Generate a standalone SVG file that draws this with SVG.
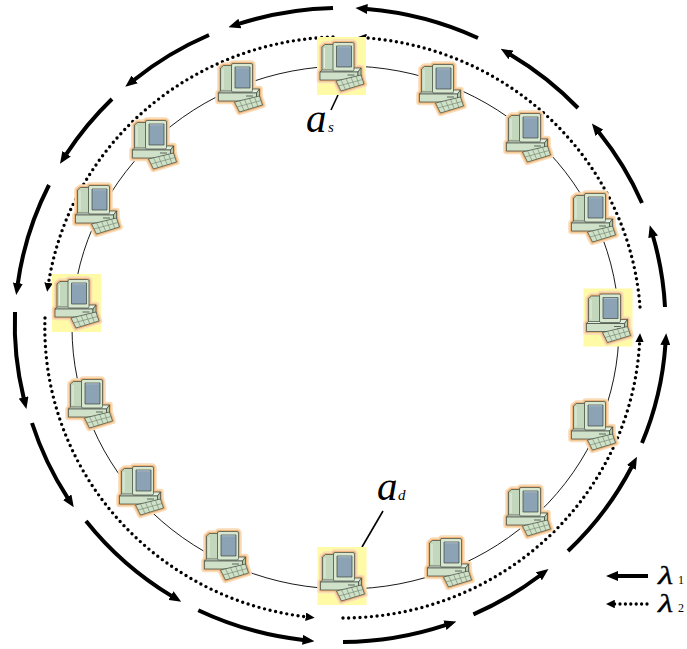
<svg xmlns="http://www.w3.org/2000/svg" width="687" height="649" viewBox="0 0 687 649">
  <style>
    .ring { fill: none; stroke: #000; stroke-width: 0.9; }
    .solid { fill: none; stroke: #000; stroke-width: 4; marker-end: url(#ah); }
    .dots { fill: none; stroke: #000; stroke-width: 3.4; stroke-linecap: round; stroke-dasharray: 0 5.7; marker-end: url(#ahs); }
    .lead { stroke: #000; stroke-width: 1.6; }
    .hl { fill: #fffaa5; }
    .lbl { font-family: "Liberation Serif", "Times New Roman", serif; font-style: italic; fill: #000; }
    .greek { font-family: "Liberation Serif", "Times New Roman", serif; font-style: italic; fill: #000; stroke: #000; stroke-width: 0.3; }
    .sub { font-family: "Liberation Serif", "Times New Roman", serif; font-style: normal; fill: #000; }
    .edge { stroke: #3c463c; stroke-width: 0.7; stroke-linejoin: round; }
    .keys { stroke: #6b7d6b; stroke-width: 0.6; fill: none; }
  </style>
  <defs>
    <marker id="ah" markerUnits="userSpaceOnUse" viewBox="0 0 12 10" markerWidth="12" markerHeight="10" refX="0.5" refY="5" orient="auto">
      <path d="M0,0 L12,5 L0,10 z" fill="#000"/>
    </marker>
    <marker id="ahs" markerUnits="userSpaceOnUse" viewBox="0 0 9 8.5" markerWidth="9" markerHeight="8.5" refX="0.3" refY="4.25" orient="auto">
      <path d="M0,0 L9,4.25 L0,8.5 z" fill="#000"/>
    </marker>

    <!-- outline of the computer, used for the soft orange halo -->
    <g id="pcSil">
      <polygon points="-21.5,6 -17.5,2 19.5,2 19.5,10 16.5,14 -21.5,14"/>
      <polygon points="-19.5,-19 -16.5,-21.5 -8,-21.5 -8,4 -19.5,4"/>
      <rect x="-8.5" y="-23.5" width="21" height="28.5" rx="1.5"/>
      <polygon points="-5.5,15 19.5,9 22.5,18 -0.5,25"/>
    </g>

    <!-- desktop computer icon -->
    <g id="pc">
      <use href="#pcSil" fill="#f9dcb8" stroke="#f9dcb8" stroke-width="6.5" stroke-linejoin="round"/>
      <use href="#pcSil" fill="#eeb57c" stroke="#eeb57c" stroke-width="3.2" stroke-linejoin="round"/>
      <!-- base unit -->
      <polygon class="edge" points="-21.5,6 -17.5,2 19.5,2 16.5,6" fill="#e3eedd"/>
      <rect class="edge" x="-21.5" y="6" width="38" height="8" fill="#cfe1c8"/>
      <polygon class="edge" points="16.5,6 19.5,2 19.5,10 16.5,14" fill="#b3c9ac"/>
      <line x1="6" y1="9" x2="13" y2="9" stroke="#3c463c" stroke-width="0.8"/>
      <line x1="9" y1="11.5" x2="13" y2="11.5" stroke="#3c463c" stroke-width="0.8"/>
      <!-- monitor housing -->
      <polygon class="edge" points="-19.5,-19 -16.5,-21.5 -8,-21.5 -8,4 -19.5,4" fill="#c3d7bc"/>
      <line x1="-17" y1="-18" x2="-17" y2="2" stroke="#e6f0e2" stroke-width="1"/>
      <rect class="edge" x="-8.5" y="-23.5" width="21" height="28.5" rx="1.5" fill="#d7e7d0"/>
      <rect class="edge" x="-5" y="-20" width="15" height="21" fill="#8ca2b5"/>
      <line x1="-4.2" y1="-19.2" x2="9.2" y2="-19.2" stroke="#b7c7d3" stroke-width="0.8"/>
      <!-- keyboard -->
      <polygon class="edge" points="-5.5,15 19.5,9 22.5,18 -0.5,25" fill="#cfe2c8"/>
      <path class="keys" d="M-3,20 L21,13.5 M-0.5,13.8 L4.1,23.6 M4.5,12.6 L8.7,22.2 M9.5,11.4 L13.3,20.8 M14.5,10.2 L17.9,19.4"/>
    </g>
  </defs>

  <!-- ring the stations sit on -->
  <ellipse class="ring" cx="345.5" cy="327.5" rx="273.5" ry="261.5"/>

  <!-- connectors: lambda1 (solid, outer) and lambda2 (dotted, inner) -->
  <g id="connectors">
    <g id="lambda1">
      <path class="solid" d="M333,8 A325.5,317 0 0 0 239.4,23.7"/>
      <path class="solid" d="M209,35 A325.5,317 0 0 0 134.3,79.7"/>
      <path class="solid" d="M112,99 A325.5,317 0 0 0 66.3,154.2"/>
      <path class="solid" d="M49,185 A325.5,317 0 0 0 17.8,283.6"/>
      <path class="solid" d="M15,312 A325.5,317 0 0 0 23.7,397.9"/>
      <path class="solid" d="M32,423 A325.5,317 0 0 0 67.5,497.6"/>
      <path class="solid" d="M86,521 A325.5,317 0 0 0 171.4,595.9"/>
      <path class="solid" d="M198.3,610.2 A325.5,317 0 0 0 303.1,639.9"/>
      <path class="solid" d="M343,642 A325.5,317 0 0 0 445.4,625.1"/>
      <path class="solid" d="M473.4,614.4 A325.5,317 0 0 0 539.3,576"/>
      <path class="solid" d="M568,551 A325.5,317 0 0 0 631.6,467"/>
      <path class="solid" d="M642,443 A325.5,317 0 0 0 665.4,344.6"/>
      <path class="solid" d="M665,307 A325.5,317 0 0 0 653,236.3"/>
      <path class="solid" d="M642,203 A325.5,317 0 0 0 599.1,132.5"/>
      <path class="solid" d="M578,108 A325.5,317 0 0 0 510.6,54.7"/>
      <path class="solid" d="M478,38 A325.5,317 0 0 0 366.9,9"/>
    </g>
    <g id="lambda2">
      <path class="dots" d="M333,37 A297.5,291 0 0 0 48.5,283.2"/>
      <path class="dots" d="M45,318 A297.5,291 0 0 0 306,616.8"/>
      <path class="dots" d="M343,618 A297.5,291 0 0 0 639.6,342"/>
      <path class="dots" d="M640,307 A297.5,291 0 0 0 366.1,37.9"/>
    </g>
    <line class="lead" x1="338" y1="95" x2="331" y2="110"/>
    <line class="lead" x1="383" y1="511" x2="362" y2="547"/>
  </g>

  <!-- stations -->
  <g id="node-as">
    <rect class="hl" x="317" y="37" width="49" height="58"/>
    <use href="#pc" transform="translate(341.5,66)"/>
  </g>
  <g id="node-2"><use href="#pc" transform="translate(441,88)"/></g>
  <g id="node-3"><use href="#pc" transform="translate(528,137)"/></g>
  <g id="node-4"><use href="#pc" transform="translate(593,217)"/></g>
  <g id="node-5">
    <rect class="hl" x="583.5" y="288.5" width="49" height="58"/>
    <use href="#pc" transform="translate(608,317.5)"/>
  </g>
  <g id="node-6"><use href="#pc" transform="translate(593,425)"/></g>
  <g id="node-7"><use href="#pc" transform="translate(528,511)"/></g>
  <g id="node-8"><use href="#pc" transform="translate(449,562)"/></g>
  <g id="node-ad">
    <rect class="hl" x="317.5" y="547" width="49" height="58"/>
    <use href="#pc" transform="translate(342,576)"/>
  </g>
  <g id="node-10"><use href="#pc" transform="translate(226,555)"/></g>
  <g id="node-11"><use href="#pc" transform="translate(141,490)"/></g>
  <g id="node-12"><use href="#pc" transform="translate(90,403)"/></g>
  <g id="node-13">
    <rect class="hl" x="52" y="274" width="49" height="58"/>
    <use href="#pc" transform="translate(76.5,303)"/>
  </g>
  <g id="node-14"><use href="#pc" transform="translate(97,209)"/></g>
  <g id="node-15"><use href="#pc" transform="translate(154,144)"/></g>
  <g id="node-16"><use href="#pc" transform="translate(240,87)"/></g>

  <!-- station labels -->
  <g id="labels">
    <text class="lbl" x="306" y="132" font-size="41">a</text>
    <text class="lbl" x="328" y="132" font-size="15">s</text>
    <text class="lbl" x="377" y="500" font-size="41">a</text>
    <text class="lbl" x="398" y="500" font-size="15">d</text>
  </g>

  <!-- legend -->
  <g id="legend">
    <line x1="648" y1="576" x2="617.5" y2="576" stroke="#000" stroke-width="4" marker-end="url(#ah)"/>
    <text class="greek" transform="translate(658,584) scale(1.35,1)" font-size="26">λ</text>
    <text class="sub" x="678" y="584" font-size="12">1</text>
    <line x1="647" y1="604" x2="614.5" y2="604" stroke="#000" stroke-width="3.3" stroke-linecap="round" stroke-dasharray="0 5.4" marker-end="url(#ahs)"/>
    <text class="greek" transform="translate(658,612) scale(1.35,1)" font-size="26">λ</text>
    <text class="sub" x="678" y="612" font-size="12">2</text>
  </g>
</svg>
